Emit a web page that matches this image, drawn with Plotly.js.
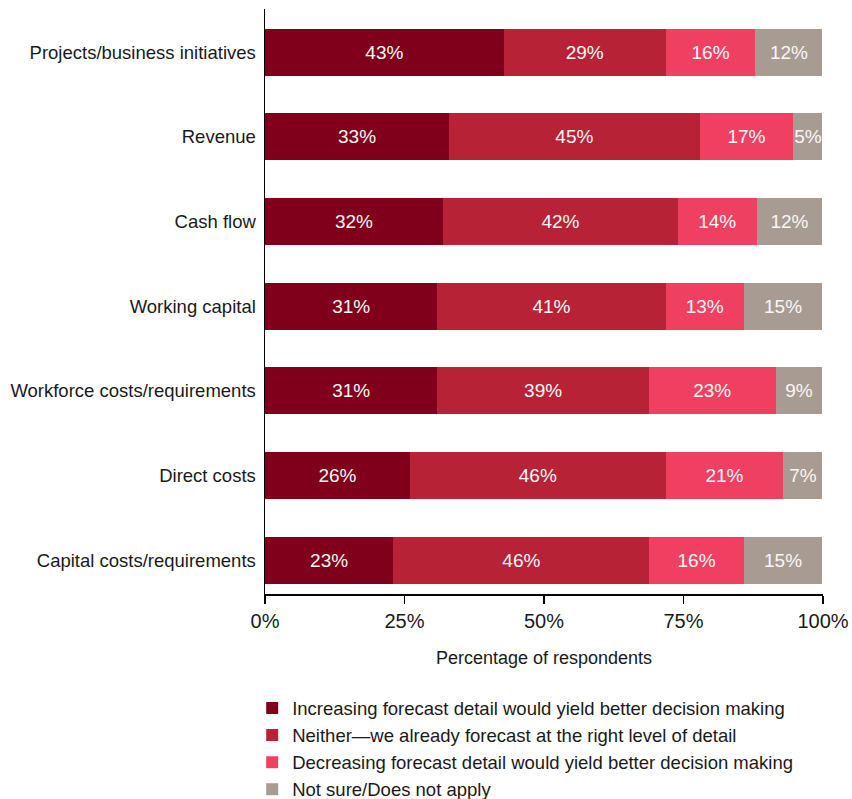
<!DOCTYPE html>
<html>
<head>
<meta charset="utf-8">
<script src="https://cdn.plot.ly/plotly-3.0.1.min.js"></script>
<style>html,body{margin:0;padding:0;background:#fff;}#chart{width:852px;height:799px;}</style>
</head>
<body>
<div id="chart"></div>
<script>
const categories = [
  "Projects/business initiatives",
  "Revenue",
  "Cash flow",
  "Working capital",
  "Workforce costs/requirements",
  "Direct costs",
  "Capital costs/requirements"
];
const seriesNames = [
  "Increasing forecast detail would yield better decision making",
  "Neither\u2014we already forecast at the right level of detail",
  "Decreasing forecast detail would yield better decision making",
  "Not sure/Does not apply"
];
// bar lengths (percent)
const increasing = [42.8, 33.0, 31.9, 30.9, 30.9, 26.0, 23.0];
const neither    = [29.0, 44.9, 42.1, 40.9, 37.9, 45.8, 45.9];
const decreasing = [16.1, 16.8, 14.1, 14.0, 22.7, 21.1, 16.9];
const notSure    = [12.0, 5.2, 11.8, 14.1, 8.4, 7.0, 14.1];
// printed labels
const increasingLbl = ["43%", "33%", "32%", "31%", "31%", "26%", "23%"];
const neitherLbl    = ["29%", "45%", "42%", "41%", "39%", "46%", "46%"];
const decreasingLbl = ["16%", "17%", "14%", "13%", "23%", "21%", "16%"];
const notSureLbl    = ["12%", "5%", "12%", "15%", "9%", "7%", "15%"];
const xTicks = [0, 25, 50, 75, 100];

const colors = ["#80001c", "#b82236", "#f04061", "#a89b91"];
const FONT = "'Liberation Sans', Arial, Helvetica, sans-serif";

const vals = [increasing, neither, decreasing, notSure];
const lbls = [increasingLbl, neitherLbl, decreasingLbl, notSureLbl];

const traces = vals.map((v, i) => ({
  type: "bar",
  orientation: "h",
  name: seriesNames[i],
  y: categories,
  x: v,
  text: lbls[i],
  texttemplate: "%{text}",
  textposition: "inside",
  insidetextanchor: "middle",
  textangle: 0,
  constraintext: "none",
  cliponaxis: false,
  textfont: {family: FONT, size: 19, color: "#f7f7f7"},
  marker: {color: colors[i], line: {width: 0}},
  hoverinfo: "skip"
}));

const layout = {
  width: 852,
  height: 799,
  margin: {l: 265, r: 29, t: 9, b: 205, autoexpand: false},
  paper_bgcolor: "#ffffff",
  plot_bgcolor: "#ffffff",
  barmode: "stack",
  bargap: 0.445,
  font: {family: FONT, size: 19, color: "#1a1a1a"},
  showlegend: true,
  legend: {
    orientation: "v",
    traceorder: "normal",
    xref: "container",
    yref: "container",
    x: 0.296,
    xanchor: "left",
    y: 0.137,
    yanchor: "top",
    font: {family: FONT, size: 18.5, color: "#1a1a1a"},
    tracegroupgap: 0,
    bgcolor: "rgba(0,0,0,0)"
  },
  xaxis: {
    range: [0, 100],
    tickvals: xTicks,
    ticktext: xTicks.map(t => t + "%"),
    ticks: "outside",
    ticklen: 8,
    tickwidth: 1.5,
    tickcolor: "#000",
    showline: true,
    linecolor: "#000",
    linewidth: 1.5,
    showgrid: false,
    zeroline: false,
    fixedrange: true,
    automargin: false,
    tickfont: {family: FONT, size: 20, color: "#1a1a1a"},
    title: {text: "Percentage of respondents", font: {family: FONT, size: 18, color: "#1a1a1a"}, standoff: 21}
  },
  yaxis: {
    type: "category",
    categoryorder: "array",
    categoryarray: categories,
    range: [6.4, -0.51],
    showline: true,
    linecolor: "#000",
    linewidth: 1.5,
    ticks: "",
    showgrid: false,
    zeroline: false,
    fixedrange: true,
    automargin: false,
    ticklabelstandoff: 4,
    tickfont: {family: FONT, size: 18.5, color: "#1a1a1a"}
  }
};

Plotly.newPlot("chart", traces, layout, {displayModeBar: false, staticPlot: true});
</script>
</body>
</html>
